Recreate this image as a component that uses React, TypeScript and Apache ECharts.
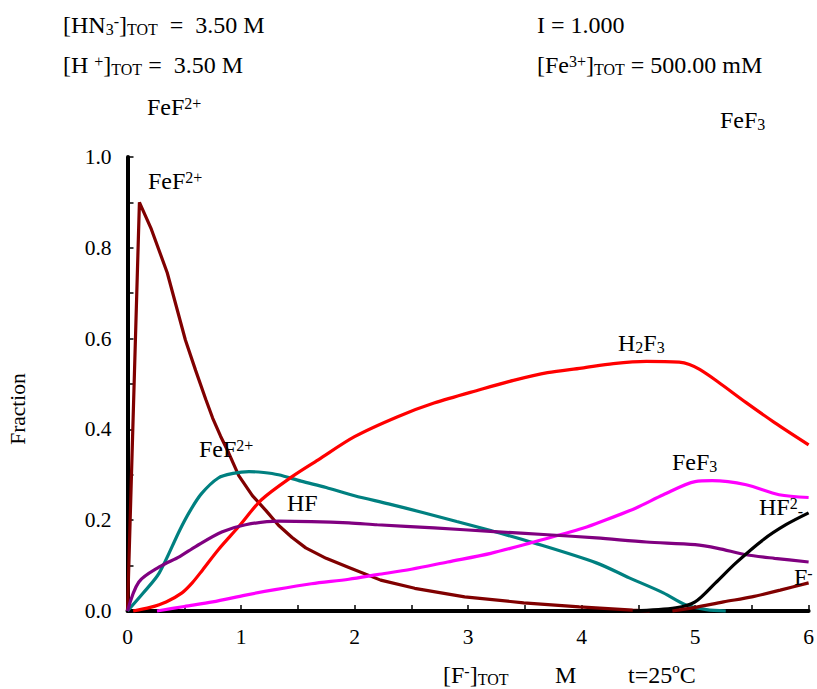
import React, { useEffect, useRef } from "react";
import * as echarts from "echarts";

const FONT = "Liberation Serif";

// FeF2+ (first, dark red, peak near x=0.1)
const fePeakX = [0, 0.105, 0.21, 0.35, 0.51, 0.6, 0.69, 0.75, 0.82, 0.89, 0.98, 1.1, 1.22, 1.33, 1.45, 1.57, 1.75, 1.95, 2.23, 2.53, 2.97, 3.49, 3.98, 4.45, 4.6];
const fePeakY = [0, 0.9, 0.841, 0.745, 0.597, 0.53, 0.466, 0.425, 0.385, 0.349, 0.298, 0.254, 0.221, 0.189, 0.162, 0.139, 0.116, 0.096, 0.068, 0.05, 0.031, 0.018, 0.009, 0.002, 0];

// FeF2+ (teal)
const tealX = [0, 0.14, 0.28, 0.46, 0.55, 0.65, 0.8, 0.93, 1.07, 1.2, 1.33, 1.53, 1.75, 2.0, 2.3, 2.6, 2.9, 3.2, 3.58, 4.13, 4.42, 4.72, 4.92, 5.1, 5.27];
const tealY = [0, 0.04, 0.084, 0.178, 0.22, 0.258, 0.293, 0.303, 0.307, 0.305, 0.3, 0.286, 0.272, 0.254, 0.236, 0.217, 0.197, 0.177, 0.15, 0.106, 0.073, 0.04, 0.013, 0.003, 0];

// H2F3 (red)
const h2f3X = [0.05, 0.2, 0.34, 0.48, 0.57, 0.66, 0.8, 0.98, 1.18, 1.45, 1.68, 2.0, 2.38, 2.7, 3.11, 3.4, 3.7, 4.0, 4.28, 4.57, 4.86, 4.95, 5.04, 5.2, 5.45, 5.7, 6.0];
const h2f3Y = [0, 0.008, 0.02, 0.04, 0.062, 0.09, 0.135, 0.186, 0.245, 0.296, 0.333, 0.384, 0.428, 0.458, 0.488, 0.508, 0.525, 0.535, 0.545, 0.55, 0.548, 0.543, 0.532, 0.505, 0.459, 0.415, 0.366];

// FeF3 (magenta)
const fef3X = [0.26, 0.5, 0.75, 1.04, 1.3, 1.62, 1.95, 2.2, 2.5, 2.82, 3.2, 3.55, 3.98, 4.13, 4.48, 4.72, 5.0, 5.15, 5.45, 5.74, 6.0];
const fef3Y = [0, 0.01, 0.02, 0.035, 0.047, 0.06, 0.07, 0.08, 0.092, 0.108, 0.127, 0.15, 0.18, 0.193, 0.227, 0.256, 0.285, 0.287, 0.278, 0.256, 0.25];

// HF (purple)
const hfX = [0, 0.1, 0.28, 0.46, 0.6, 0.83, 1.04, 1.33, 1.62, 1.95, 2.2, 2.7, 3.23, 3.7, 4.13, 4.57, 5.0, 5.2, 5.45, 5.7, 6.0];
const hfY = [0, 0.064, 0.097, 0.12, 0.142, 0.174, 0.19, 0.198, 0.197, 0.194, 0.19, 0.183, 0.175, 0.168, 0.161, 0.152, 0.146, 0.138, 0.124, 0.116, 0.108];

// HF2- (black)
const hf2X = [4.45, 4.83, 5.0, 5.18, 5.36, 5.6, 5.8, 6.0];
const hf2Y = [0, 0.007, 0.02, 0.062, 0.106, 0.157, 0.19, 0.216];

// F- (dark red)
const fMinusX = [4.8, 5.0, 5.25, 5.5, 5.75, 6.0];
const fMinusY = [0, 0.008, 0.02, 0.031, 0.046, 0.062];

const xTicks = [0, 1, 2, 3, 4, 5, 6];

const zip = (xs: number[], ys: number[]) => xs.map((x, i) => [x, ys[i]]);

const rich = {
  n: { fontSize: 24, lineHeight: 24, fontFamily: FONT, fill: "#000" },
  sup: { fontSize: 16, lineHeight: 16, fontFamily: FONT, fill: "#000", verticalAlign: "top" },
  sub: { fontSize: 16, lineHeight: 16, fontFamily: FONT, fill: "#000", verticalAlign: "bottom" },
};

const txt = (x: number, y: number, text: string) => ({
  type: "text",
  x,
  y,
  silent: true,
  z: 10,
  style: {
    text,
    rich,
    fontFamily: FONT,
    fontSize: 24,
    fill: "#000",
    align: "left",
    verticalAlign: "middle",
  },
});

export default function App() {
  const ref = useRef<HTMLDivElement>(null);
  useEffect(() => {
    if (!ref.current) return;
    const chart = echarts.init(ref.current, undefined, { renderer: "svg" });
    const line = (name: string, data: number[][], color: string, smooth: number | boolean) => ({
      name,
      type: "line",
      data,
      showSymbol: false,
      symbol: "none",
      clip: false,
      smooth,
      lineStyle: { color, width: 3.2 },
      itemStyle: { color },
    });
    chart.setOption({
      animation: false,
      backgroundColor: "#fff",
      grid: { left: 127.5, right: 4, top: 157, bottom: 78 },
      xAxis: {
        type: "value",
        min: 0,
        max: 6,
        interval: 1,
        axisLine: { show: true, onZero: false, lineStyle: { color: "#000", width: 4 } },
        axisTick: { show: true, inside: true, length: 6, lineStyle: { color: "#000", width: 1.5 } },
        minorTick: { show: true, splitNumber: 2, length: 6, lineStyle: { color: "#000", width: 1.5 } },
        splitLine: { show: false },
        axisLabel: {
          margin: 15,
          fontFamily: FONT,
          fontSize: 21.5,
          color: "#000",
          formatter: (v: number) => (xTicks.includes(v) ? String(v) : ""),
        },
      },
      yAxis: {
        type: "value",
        min: 0,
        max: 1,
        interval: 0.2,
        axisLine: { show: true, onZero: false, lineStyle: { color: "#000", width: 4 } },
        axisTick: { show: true, inside: true, length: 6, lineStyle: { color: "#000", width: 1.5 } },
        minorTick: { show: true, splitNumber: 2, length: 6, lineStyle: { color: "#000", width: 1.5 } },
        splitLine: { show: false },
        axisLabel: {
          margin: 16,
          fontFamily: FONT,
          fontSize: 21.5,
          color: "#000",
          formatter: (v: number) => v.toFixed(1),
        },
      },
      series: [
        line("FeF2+ (a)", zip(fePeakX, fePeakY), "#800000", false),
        line("FeF2+", zip(tealX, tealY), "#008080", 0.3),
        line("H2F3", zip(h2f3X, h2f3Y), "#FF0000", 0.3),
        line("FeF3", zip(fef3X, fef3Y), "#FF00FF", 0.3),
        line("HF", zip(hfX, hfY), "#800080", 0.3),
        line("HF2-", zip(hf2X, hf2Y), "#000000", 0.3),
        line("F-", zip(fMinusX, fMinusY), "#800000", 0.3),
      ],
      graphic: [
        txt(63, 25, "{n|[HN}{sub|3}{sup|-}{n|]}{sub|TOT}{n|  =  3.50 M}"),
        txt(63, 65, "{n|[H }{sup|+}{n|]}{sub|TOT}{n| =  3.50 M}"),
        txt(147, 107, "{n|FeF}{sup|2+}"),
        txt(537, 25, "{n|I = 1.000}"),
        txt(537, 65, "{n|[Fe}{sup|3+}{n|]}{sub|TOT}{n| = 500.00 mM}"),
        txt(720, 120, "{n|FeF}{sub|3}"),
        txt(148, 181, "{n|FeF}{sup|2+}"),
        txt(199, 449, "{n|FeF}{sup|2+}"),
        txt(287, 503, "{n|HF}"),
        txt(618, 343, "{n|H}{sub|2}{n|F}{sub|3}"),
        txt(672, 462, "{n|FeF}{sub|3}"),
        txt(759, 507, "{n|HF}{sup|2}{sub|-}"),
        txt(794, 577, "{n|F}{sup|-}"),
        txt(443, 675, "{n|[F}{sup|-}{n|]}{sub|TOT}"),
        txt(555, 675, "{n|M}"),
        txt(628, 675, "{n|t=25ºC}"),
        {
          type: "text",
          x: 18,
          y: 409,
          rotation: Math.PI / 2,
          silent: true,
          style: {
            text: "Fraction",
            fontFamily: FONT,
            fontSize: 21.5,
            fill: "#000",
            align: "center",
            verticalAlign: "middle",
          },
        },
      ],
    });
    return () => chart.dispose();
  }, []);
  return (
    <div
      ref={ref}
      style={{ position: "absolute", left: 0, top: 0, width: 817, height: 689, background: "#fff" }}
    />
  );
}
